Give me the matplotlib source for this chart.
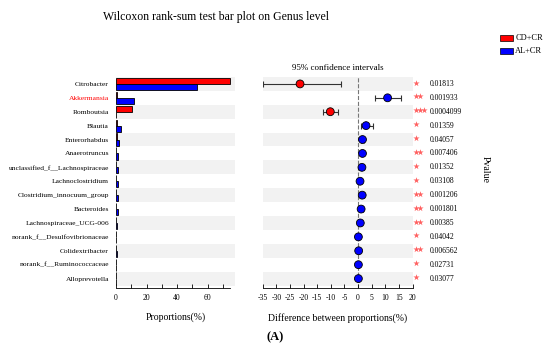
import numpy as np
import matplotlib
matplotlib.use('Agg')
import matplotlib.pyplot as plt
from matplotlib.patches import Rectangle

plt.rcParams['font.family'] = ['Liberation Serif', 'DejaVu Serif']
plt.rcParams['axes.unicode_minus'] = False

# data
genus = ['Citrobacter', 'Akkermansia', 'Romboutsia', 'Blautia', 'Enterorhabdus',
         'Anaerotruncus', 'unclassified_f__Lachnospiraceae', 'Lachnoclostridium',
         'Clostridium_innocuum_group', 'Bacteroides', 'Lachnospiraceae_UCG-006',
         'norank_f__Desulfovibrionaceae', 'Colidextribacter', 'norank_f__Ruminococcaceae',
         'Alloprevotella']
cd_cr = [74.5, 0.6, 10.5, 0.5, 0.5, 0.3, 0.3, 0.3, 0.3, 0.2, 0.2, 0.2, 0.2, 0.2, 0.2]
al_cr = [53.0, 12.0, 0.2, 3.5, 2.0, 1.6, 1.5, 1.0, 1.6, 1.1, 0.9, 0.3, 0.4, 0.2, 0.3]
diff = [-21.3, 10.8, -10.2, 2.9, 1.6, 1.6, 1.4, 0.7, 1.5, 1.1, 0.8, 0.1, 0.2, 0.1, 0.1]
ci_low = [-35.0, 6.2, -12.8, 0.9, 0.9, 0.9, 0.8, 0.3, 0.8, 0.5, 0.4, -0.1, 0.0, -0.1, -0.1]
ci_high = [-6.3, 15.9, -7.3, 5.3, 2.3, 2.3, 2.0, 1.1, 2.2, 1.7, 1.2, 0.3, 0.4, 0.3, 0.3]
pvals = ['0.01813', '0.001933', '0.0004099', '0.01359', '0.04057', '0.007406', '0.01352',
         '0.03108', '0.001206', '0.001801', '0.00385', '0.04042', '0.006562', '0.02731',
         '0.03077']

red = '#ff0000'
blue = '#0000ff'
band = '#f2f2f2'

fig = plt.figure(figsize=(5.5, 3.53), dpi=100)
y = np.arange(len(genus))

# left panel: proportions
ax1 = fig.add_axes([0.2109, 0.184, 0.2164, 0.598])
for i in y:
    if i % 2 == 0:
        ax1.axhspan(i - 0.5, i + 0.5, color=band, lw=0, zorder=0)
ax1.barh(y - 0.22, cd_cr, height=0.44, color=red, edgecolor='black', lw=0.6, zorder=2)
ax1.barh(y + 0.22, al_cr, height=0.44, color=blue, edgecolor='black', lw=0.6, zorder=2)
ax1.set_ylim(14.68, -0.5)
ax1.set_xlim(0, 78)
ax1.set_yticks(y)
ax1.set_yticklabels(genus, fontsize=5.4)
ax1.get_yticklabels()[1].set_color(red)
ax1.tick_params(axis='y', length=0, pad=5)
ax1.set_xticks(np.arange(0, 80, 10))
ax1.set_xticklabels(['0', '', '20', '', '40', '', '60', ''], fontsize=5.5)
ax1.tick_params(axis='x', direction='in', length=3, width=0.6, pad=4)
for s in ['top', 'right', 'left']:
    ax1.spines[s].set_visible(False)
ax1.spines['bottom'].set_bounds(0, 74.5)
ax1.spines['bottom'].set_linewidth(0.6)
ax1.set_xlabel('Proportions(%)', fontsize=7, labelpad=8)

# right panel: difference with 95% CI
ax2 = fig.add_axes([0.4776, 0.184, 0.2727, 0.598])
for i in y:
    if i % 2 == 0:
        ax2.axhspan(i - 0.5, i + 0.5, color=band, lw=0, zorder=0)
ax2.axvline(0, color='#777777', ls='--', lw=0.8, zorder=1)
err = [np.array(diff) - np.array(ci_low), np.array(ci_high) - np.array(diff)]
cols = [red if d < -5 else blue for d in diff]
ax2.errorbar(diff, y, xerr=err, fmt='none', ecolor='#333333', elinewidth=0.8,
             capsize=2.5, capthick=0.8, zorder=2)
ax2.scatter(diff, y, s=32, c=cols, edgecolors='black', linewidths=0.6, zorder=3)
ax2.set_ylim(14.68, -0.5)
ax2.set_xlim(-35, 20)
ax2.set_yticks([])
ax2.set_xticks(np.arange(-35, 25, 5))
ax2.tick_params(axis='x', direction='in', length=3, width=0.6, pad=4, labelsize=5.5)
for s in ['top', 'right', 'left']:
    ax2.spines[s].set_visible(False)
ax2.spines['bottom'].set_linewidth(0.6)
ax2.set_xlabel('Difference between proportions(%)', fontsize=7, labelpad=8)
ax2.set_title('95% confidence intervals', fontsize=6.5, pad=5)

# significance stars and p values
for i, p in enumerate(pvals):
    v = float(p)
    n = 3 if v < 0.001 else (2 if v < 0.01 else 1)
    sx = 21.1 + 1.5 * np.arange(n)
    ax2.scatter(sx, [i - 0.1] * n, marker='*', s=22, color='#ff6060', lw=0,
                clip_on=False, zorder=3)
    ax2.text(1.115, i, p, transform=ax2.get_yaxis_transform(), fontsize=5.5,
             va='center', ha='left')

fig.text(0.882, 0.52, 'Pvalue', rotation=270, fontsize=7, ha='center', va='center')

# legend
fig.patches.append(Rectangle((0.909, 0.885), 0.024, 0.016, transform=fig.transFigure,
                             facecolor=red, edgecolor='black', lw=0.5))
fig.patches.append(Rectangle((0.909, 0.848), 0.024, 0.016, transform=fig.transFigure,
                             facecolor=blue, edgecolor='black', lw=0.5))
fig.text(0.937, 0.893, 'CD+CR', fontsize=6, va='center', ha='left')
fig.text(0.937, 0.856, 'AL+CR', fontsize=6, va='center', ha='left')

fig.text(0.393, 0.952, 'Wilcoxon rank-sum test bar plot on Genus level', fontsize=8.5,
         ha='center', va='center')
fig.text(0.5, 0.045, '(A)', fontsize=9, ha='center', va='center', fontweight='bold')

fig.savefig('out.png', dpi=100)
